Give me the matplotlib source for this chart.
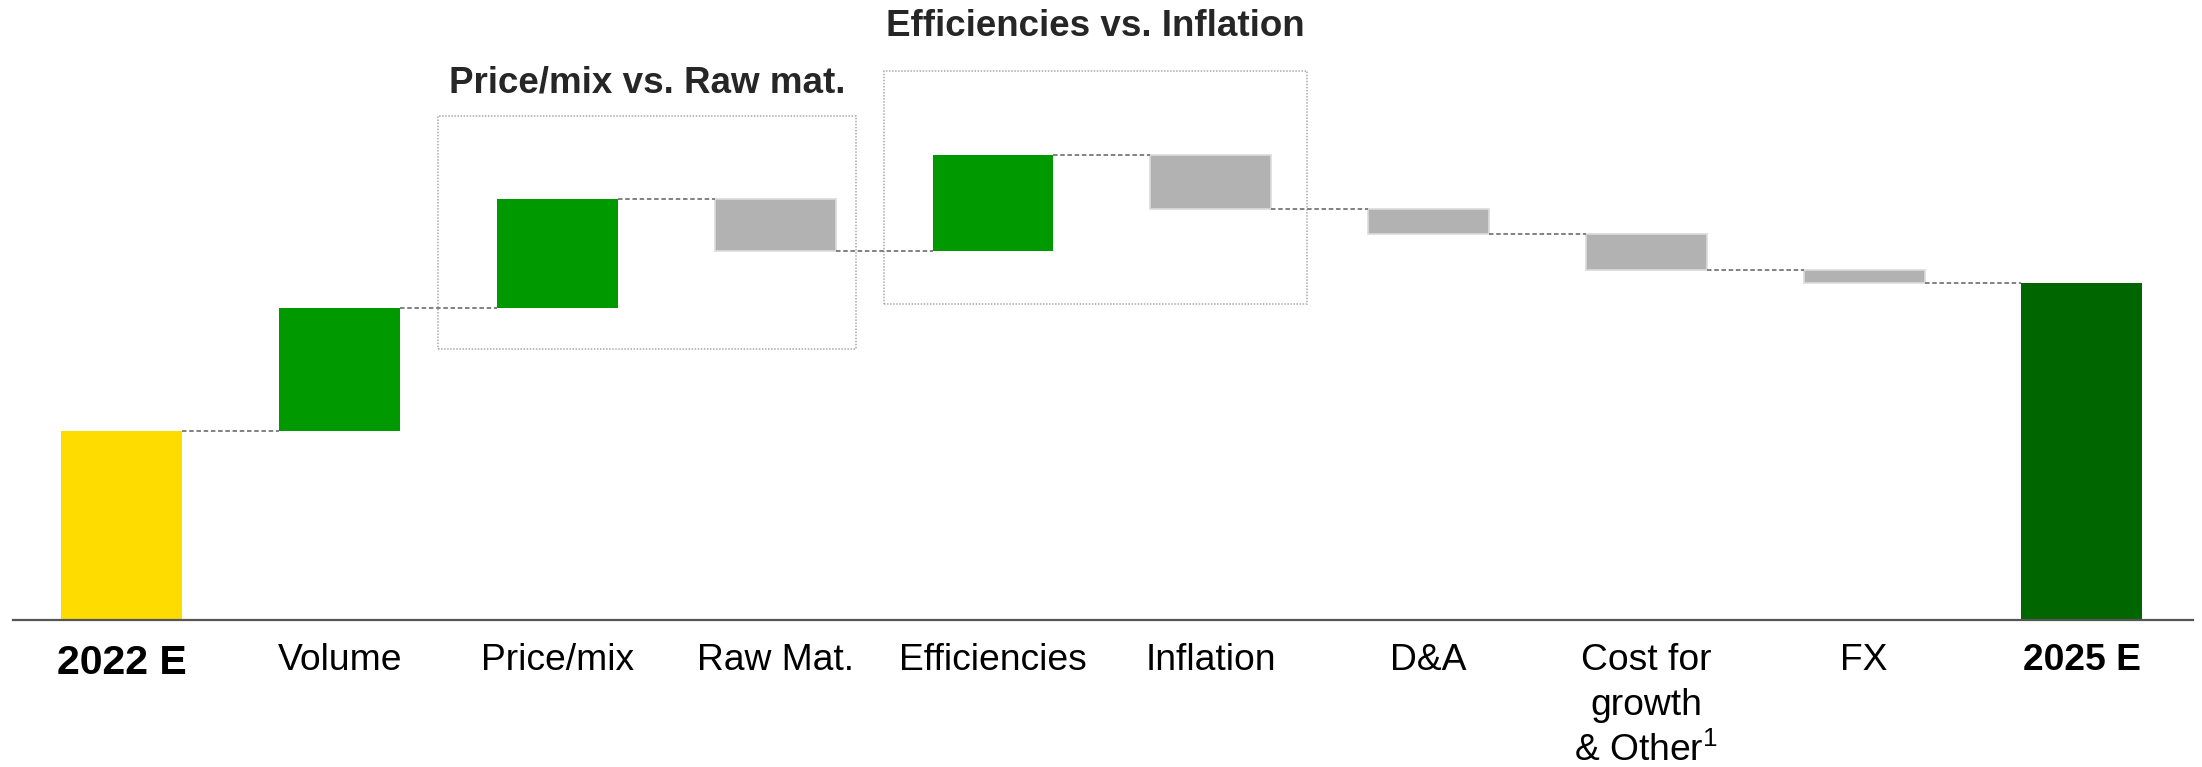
import matplotlib
matplotlib.use("Agg")
import matplotlib.pyplot as plt
from matplotlib.patches import Rectangle

# waterfall data (arbitrary units)
categories = ["2022 E", "Volume", "Price/mix", "Raw Mat.", "Efficiencies",
              "Inflation", "D&A", "Cost for\ngrowth\n& Other$^{1}$", "FX", "2025 E"]
start_value = 18.9
deltas = [12.3, 10.9, -5.2, 9.6, -5.4, -2.5, -3.6, -1.3]
end_value = start_value + sum(deltas)

group_titles = ["Price/mix vs. Raw mat.", "Efficiencies vs. Inflation"]
group_spans = [(1.45, 3.37, 27.1, 50.4), (3.50, 5.44, 31.6, 54.9)]  # x0, x1, y0, y1
group_title_y = [53.7, 59.3]

YELLOW = "#ffdc00"
GREEN = "#009900"
DARK_GREEN = "#006600"
GREY = "#b2b2b2"

plt.rcParams["font.family"] = ["Liberation Sans", "DejaVu Sans"]
plt.rcParams["mathtext.fontset"] = "custom"
plt.rcParams["mathtext.rm"] = "Liberation Sans"
plt.rcParams["mathtext.it"] = "Liberation Sans"
plt.rcParams["mathtext.bf"] = "Liberation Sans:bold"

fig = plt.figure(figsize=(22.02, 7.67), dpi=100)
ax = fig.add_axes([13 / 2202, (767 - 620) / 767, 2180 / 2202, 620 / 767])
ax.set_xlim(-0.5, 9.51)
ax.set_ylim(0, 62)
ax.axis("off")

width = 0.555
levels = [start_value]
for d in deltas:
    levels.append(levels[-1] + d)

# totals
ax.bar(0, start_value, width=width, color=YELLOW, linewidth=0)
ax.bar(len(categories) - 1, end_value, width=width, color=DARK_GREEN, linewidth=0)

# floating bars
for i, d in enumerate(deltas):
    x = i + 1
    bottom = levels[i] if d > 0 else levels[i + 1]
    if d > 0:
        ax.bar(x, abs(d), bottom=bottom, width=width, color=GREEN, linewidth=0)
    else:
        ax.bar(x, abs(d), bottom=bottom, width=width, color=GREY,
               edgecolor="#dcdcdc", linewidth=1.2)

# connectors
for i, lvl in enumerate(levels):
    ax.plot([i + width / 2, i + 1 - width / 2], [lvl, lvl], color="#777777",
            linewidth=1.3, linestyle=(0, (2.5, 1.5)))

# baseline
ax.plot([-0.5, 9.51], [0, 0], color="#555555", linewidth=1.6, clip_on=False)

# group boxes and titles
for title, (x0, x1, y0, y1), ty in zip(group_titles, group_spans, group_title_y):
    ax.add_patch(Rectangle((x0, y0), x1 - x0, y1 - y0, fill=False,
                           edgecolor="#aaaaaa", linewidth=1.1, linestyle=(0, (1, 1))))
    ax.text((x0 + x1) / 2, ty, title, ha="center", va="center", fontsize=26.5,
            fontweight="bold", color="#262626", clip_on=False)

# category labels
label_sizes = [29.5] + [26.8] * (len(categories) - 1)
for i, lab in enumerate(categories):
    bold = i in (0, len(categories) - 1)
    ax.text(i, -2.35, lab, ha="center", va="top", fontsize=label_sizes[i],
            fontweight="bold" if bold else "normal", color="black",
            linespacing=1.35, clip_on=False)

fig.savefig("out.png", dpi=100)
